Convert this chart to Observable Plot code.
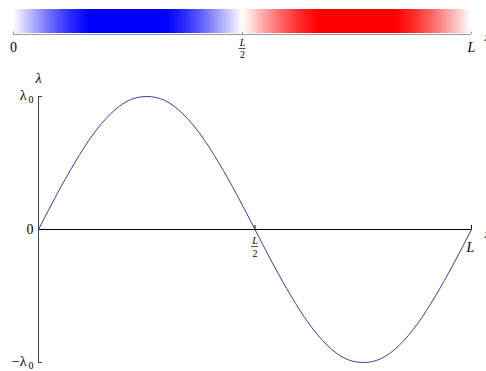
<!DOCTYPE html>
<html>
<head>
<meta charset="utf-8">
<script src="https://cdn.jsdelivr.net/npm/d3@7"></script>
<script src="https://cdn.jsdelivr.net/npm/@observablehq/plot@0.6"></script>
<style>
  html, body { margin: 0; padding: 0; background: #fff; overflow: hidden; }
  #wrap { position: relative; width: 486px; height: 371px; }
  #barBox, #mainBox { position: absolute; left: 0; }
  #barBox { top: 0; }
  #mainBox { top: 60px; }
</style>
</head>
<body>
<div id="wrap"><div id="barBox"></div><div id="mainBox"></div></div>
<script>
// position along the rod, in units of L
const xPos = [0, 0.0417, 0.0833, 0.125, 0.1667, 0.2083, 0.25, 0.2917, 0.3333, 0.375, 0.4167, 0.4583,
              0.5, 0.5417, 0.5833, 0.625, 0.6667, 0.7083, 0.75, 0.7917, 0.8333, 0.875, 0.9167, 0.9583, 1];
// lambda in units of lambda_0
const lambdaVals = [0, 0.26, 0.5, 0.71, 0.87, 0.97, 1, 0.97, 0.87, 0.71, 0.5, 0.26,
                    0, -0.26, -0.5, -0.71, -0.87, -0.97, -1, -0.97, -0.87, -0.71, -0.5, -0.26, 0];
const xTickVals = [0, 0.5, 1];
const yTickVals = [1, 0, -1];

const curveData = xPos.map((x, i) => ({x, y: lambdaVals[i]}));
const serif = "Liberation Serif, Times New Roman, serif";
const baseStyle = {fontFamily: serif, fontSize: "14px", background: "transparent", color: "black"};

// ---------- top colour bar ----------
const colorOf = v => {
  const t = Math.min(1, Math.abs(v) / 0.85);
  return v >= 0 ? d3.interpolateRgb("#ffffff", "#0000ff")(t) : d3.interpolateRgb("#ffffff", "#ff0000")(t);
};
const frac = 0.0076;
const barPlot = Plot.plot({
  width: 486, height: 60,
  marginTop: 9, marginBottom: 26, marginLeft: 13, marginRight: 15,
  x: {domain: [0, 1], axis: null},
  y: {domain: [0, 1], axis: null},
  style: baseStyle,
  marks: [
    Plot.rect([{a: xTickVals[0], b: xTickVals[2]}], {x1: "a", x2: "b", y1: 0, y2: 1, fill: "url(#barGrad)", insetBottom: 1}),
    Plot.ruleY([0], {stroke: "#9a9a9a", strokeWidth: 1}),
    Plot.ruleX(xTickVals, {y1: 0, y2: 0.1, stroke: "#9a9a9a"}),
    Plot.text([xTickVals[0]], {x: d => d, y: 0, text: () => "0", dy: 13, fontSize: 14}),
    Plot.text([xTickVals[2]], {x: d => d, y: 0, text: () => "L", dy: 13, fontSize: 14, fontStyle: "italic"}),
    Plot.text([xTickVals[1]], {x: d => d, y: 0, text: () => "L", dy: 8, fontSize: 10, fontStyle: "italic"}),
    Plot.ruleY([0], {x1: xTickVals[1] - frac, x2: xTickVals[1] + frac, dy: 14, stroke: "black", strokeWidth: 0.7}),
    Plot.text([xTickVals[1]], {x: d => d, y: 0, text: () => "2", dy: 20, fontSize: 10}),
    Plot.text([xTickVals[2]], {x: d => d, y: 0, text: () => "x", dx: 13, dy: 2, textAnchor: "start", fontSize: 13, fontStyle: "italic"})
  ]
});
const defs = d3.select(barPlot).append("defs");
const grad = defs.append("linearGradient").attr("id", "barGrad").attr("x1", "0").attr("x2", "1").attr("y1", "0").attr("y2", "0");
curveData.forEach(d => grad.append("stop").attr("offset", d.x).attr("stop-color", colorOf(d.y)));
document.getElementById("barBox").appendChild(barPlot);

// ---------- main plot ----------
const tk = 0.0095; // y tick length (x units)
const mainPlot = Plot.plot({
  width: 486, height: 311,
  marginTop: 36, marginBottom: 9, marginLeft: 38, marginRight: 15,
  x: {domain: [0, 1], axis: null},
  y: {domain: [-1, 1], axis: null},
  style: baseStyle,
  marks: [
    Plot.ruleX([0], {y1: -1, y2: 1, stroke: "#444", strokeWidth: 1}),
    Plot.ruleY(yTickVals, {x1: 0, x2: tk, stroke: "#444"}),
    Plot.ruleY([0], {stroke: "black", strokeWidth: 1.2}),
    Plot.ruleX(xTickVals.slice(1), {y1: 0, y2: 0.03, stroke: "black"}),
    Plot.line(curveData, {x: "x", y: "y", curve: "natural", stroke: "#3d3d99", strokeWidth: 1}),
    // y tick labels
    Plot.text([yTickVals[0]], {x: 0, y: d => d, text: () => "λ", dx: -12, dy: -1, textAnchor: "end", fontSize: 14}),
    Plot.text([yTickVals[0]], {x: 0, y: d => d, text: () => "0", dx: -5, dy: 3, textAnchor: "end", fontSize: 10}),
    Plot.text([yTickVals[1]], {x: 0, y: d => d, text: () => "0", dx: -5, textAnchor: "end", fontSize: 14}),
    Plot.text([yTickVals[2]], {x: 0, y: d => d, text: () => "−λ", dx: -12, dy: -1, textAnchor: "end", fontSize: 14}),
    Plot.text([yTickVals[2]], {x: 0, y: d => d, text: () => "0", dx: -5, dy: 3, textAnchor: "end", fontSize: 10}),
    // y axis label
    Plot.text([yTickVals[0]], {x: 0, y: d => d, text: () => "λ", dy: -18, fontSize: 14, fontStyle: "italic"}),
    // x tick labels
    Plot.text([xTickVals[1]], {x: d => d, y: 0, text: () => "L", dy: 11, fontSize: 10, fontStyle: "italic"}),
    Plot.ruleY([0], {x1: xTickVals[1] - frac * 458 / 433, x2: xTickVals[1] + frac * 458 / 433, dy: 17, stroke: "black", strokeWidth: 0.7}),
    Plot.text([xTickVals[1]], {x: d => d, y: 0, text: () => "2", dy: 24, fontSize: 10}),
    Plot.text([xTickVals[2]], {x: d => d, y: 0, text: () => "L", dx: -1, dy: 18, fontSize: 14, fontStyle: "italic"}),
    Plot.text([xTickVals[2]], {x: d => d, y: 0, text: () => "x", dx: 13, dy: 4, textAnchor: "start", fontSize: 13, fontStyle: "italic"})
  ]
});
document.getElementById("mainBox").appendChild(mainPlot);
</script>
</body>
</html>
